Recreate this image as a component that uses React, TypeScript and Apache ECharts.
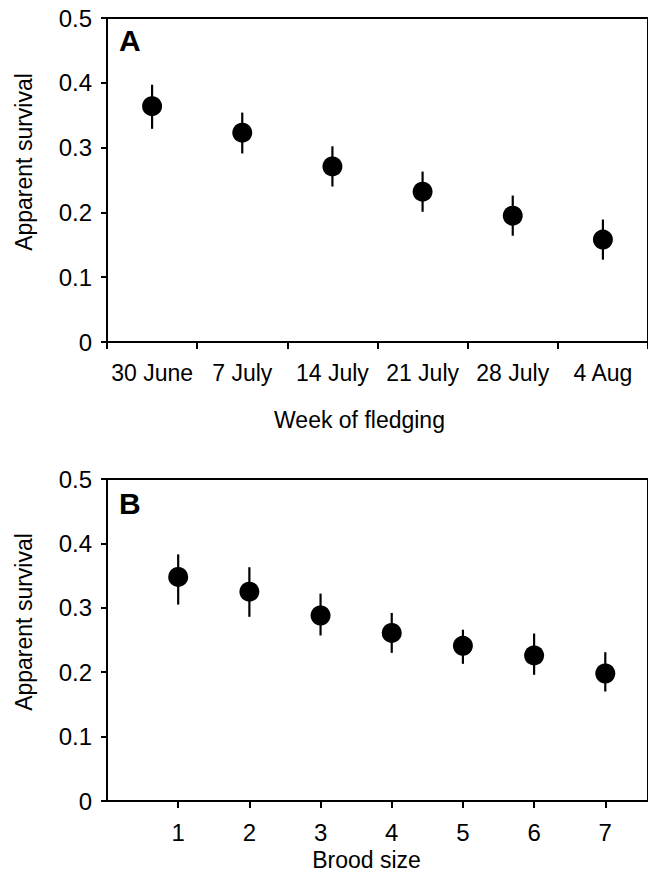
import React, { useEffect, useRef } from "react";
import * as echarts from "echarts";

const weeks = ["30 June", "7 July", "14 July", "21 July", "28 July", "4 Aug"];
const survivalA = [0.364, 0.323, 0.271, 0.232, 0.195, 0.158];
const lowerA = [0.329, 0.291, 0.240, 0.201, 0.164, 0.127];
const upperA = [0.397, 0.354, 0.302, 0.263, 0.226, 0.189];

const broodSizes = [1, 2, 3, 4, 5, 6, 7];
const survivalB = [0.348, 0.325, 0.288, 0.261, 0.241, 0.226, 0.198];
const lowerB = [0.305, 0.286, 0.257, 0.230, 0.213, 0.196, 0.170];
const upperB = [0.383, 0.363, 0.322, 0.292, 0.266, 0.260, 0.231];

const yTicks = [0, 0.1, 0.2, 0.3, 0.4, 0.5];

const FONT = "'Liberation Sans', Arial, sans-serif";

export default function App() {
  const ref = useRef<HTMLDivElement>(null);
  useEffect(() => {
    if (!ref.current) return;
    const chart = echarts.init(ref.current, null, { renderer: "svg" });

    const errRender = (params: any, api: any) => {
      const x = api.value(0);
      const lo = api.coord([x, api.value(1)]);
      const hi = api.coord([x, api.value(2)]);
      return {
        type: "line",
        shape: { x1: lo[0], y1: lo[1], x2: hi[0], y2: hi[1] },
        style: { stroke: "#000", lineWidth: 2.2 },
      };
    };

    const yAxisCommon = (gridIndex: number) => ({
      type: "value",
      gridIndex,
      min: yTicks[0],
      max: yTicks[yTicks.length - 1],
      interval: 0.1,
      name: "Apparent survival",
      nameLocation: "middle",
      nameGap: 72,
      nameRotate: 90,
      nameTextStyle: {
        color: "#000",
        fontSize: 23,
        fontFamily: FONT,
        padding: [0, 0, 0, 36],
      },
      axisLine: { show: true, lineStyle: { color: "#000", width: 2 } },
      axisTick: { show: true, length: 6, lineStyle: { color: "#000", width: 2 } },
      splitLine: { show: false },
      axisLabel: {
        color: "#000",
        fontSize: 24,
        fontFamily: FONT,
        margin: 15,
        formatter: (v: number) => (v === 0 ? "0" : v.toFixed(1)),
      },
    });

    const option: any = {
      animation: false,
      backgroundColor: "#fff",
      grid: [
        {
          left: 107,
          top: 18,
          width: 543,
          height: 324,
          show: true,
          borderColor: "#000",
          borderWidth: 2,
        },
        {
          left: 107,
          top: 479,
          width: 542,
          height: 322,
          show: true,
          borderColor: "#000",
          borderWidth: 2,
        },
      ],
      xAxis: [
        {
          type: "category",
          gridIndex: 0,
          data: weeks,
          boundaryGap: true,
          name: "Week of fledging",
          nameLocation: "middle",
          nameGap: 66,
          nameTextStyle: {
            color: "#000",
            fontSize: 23,
            fontFamily: FONT,
            padding: [0, 36, 0, 0],
          },
          axisLine: { show: true, lineStyle: { color: "#000", width: 2 } },
          axisTick: { show: true, length: 7, lineStyle: { color: "#000", width: 2 } },
          axisLabel: {
            color: "#000",
            fontSize: 23,
            fontFamily: FONT,
            margin: 19,
            interval: 0,
          },
          splitLine: { show: false },
        },
        {
          type: "value",
          gridIndex: 1,
          min: 0,
          max: 7.6,
          interval: 1,
          name: "Brood size",
          nameLocation: "middle",
          nameGap: 47,
          nameTextStyle: {
            color: "#000",
            fontSize: 23,
            fontFamily: FONT,
            padding: [0, 22, 0, 0],
          },
          axisLine: { show: true, lineStyle: { color: "#000", width: 2 } },
          axisTick: { show: true, length: 7, lineStyle: { color: "#000", width: 2 } },
          axisLabel: {
            color: "#000",
            fontSize: 24,
            fontFamily: FONT,
            margin: 19,
            showMinLabel: false,
            showMaxLabel: false,
            formatter: (v: number) => (v === 0 ? "" : String(v)),
          },
          splitLine: { show: false },
        },
      ],
      yAxis: [yAxisCommon(0), yAxisCommon(1)],
      graphic: [
        {
          type: "text",
          left: 119,
          top: 25,
          style: { text: "A", fill: "#000", font: `bold 30px ${FONT}` },
        },
        {
          type: "text",
          left: 119,
          top: 488,
          style: { text: "B", fill: "#000", font: `bold 30px ${FONT}` },
        },
      ],
      series: [
        {
          type: "custom",
          xAxisIndex: 0,
          yAxisIndex: 0,
          renderItem: errRender,
          data: weeks.map((w, i) => [w, lowerA[i], upperA[i]]),
          encode: { x: 0, y: [1, 2] },
          z: 2,
        },
        {
          type: "scatter",
          xAxisIndex: 0,
          yAxisIndex: 0,
          symbol: "circle",
          symbolSize: 20,
          itemStyle: { color: "#000", opacity: 1 },
          data: weeks.map((w, i) => [w, survivalA[i]]),
          z: 3,
        },
        {
          type: "custom",
          xAxisIndex: 1,
          yAxisIndex: 1,
          renderItem: errRender,
          data: broodSizes.map((b, i) => [b, lowerB[i], upperB[i]]),
          encode: { x: 0, y: [1, 2] },
          z: 2,
        },
        {
          type: "scatter",
          xAxisIndex: 1,
          yAxisIndex: 1,
          symbol: "circle",
          symbolSize: 20,
          itemStyle: { color: "#000", opacity: 1 },
          data: broodSizes.map((b, i) => [b, survivalB[i]]),
          z: 3,
        },
      ],
    };

    chart.setOption(option);
    return () => chart.dispose();
  }, []);

  return (
    <div
      ref={ref}
      style={{ position: "fixed", left: 0, top: 0, width: 648, height: 882, background: "#fff" }}
    />
  );
}
